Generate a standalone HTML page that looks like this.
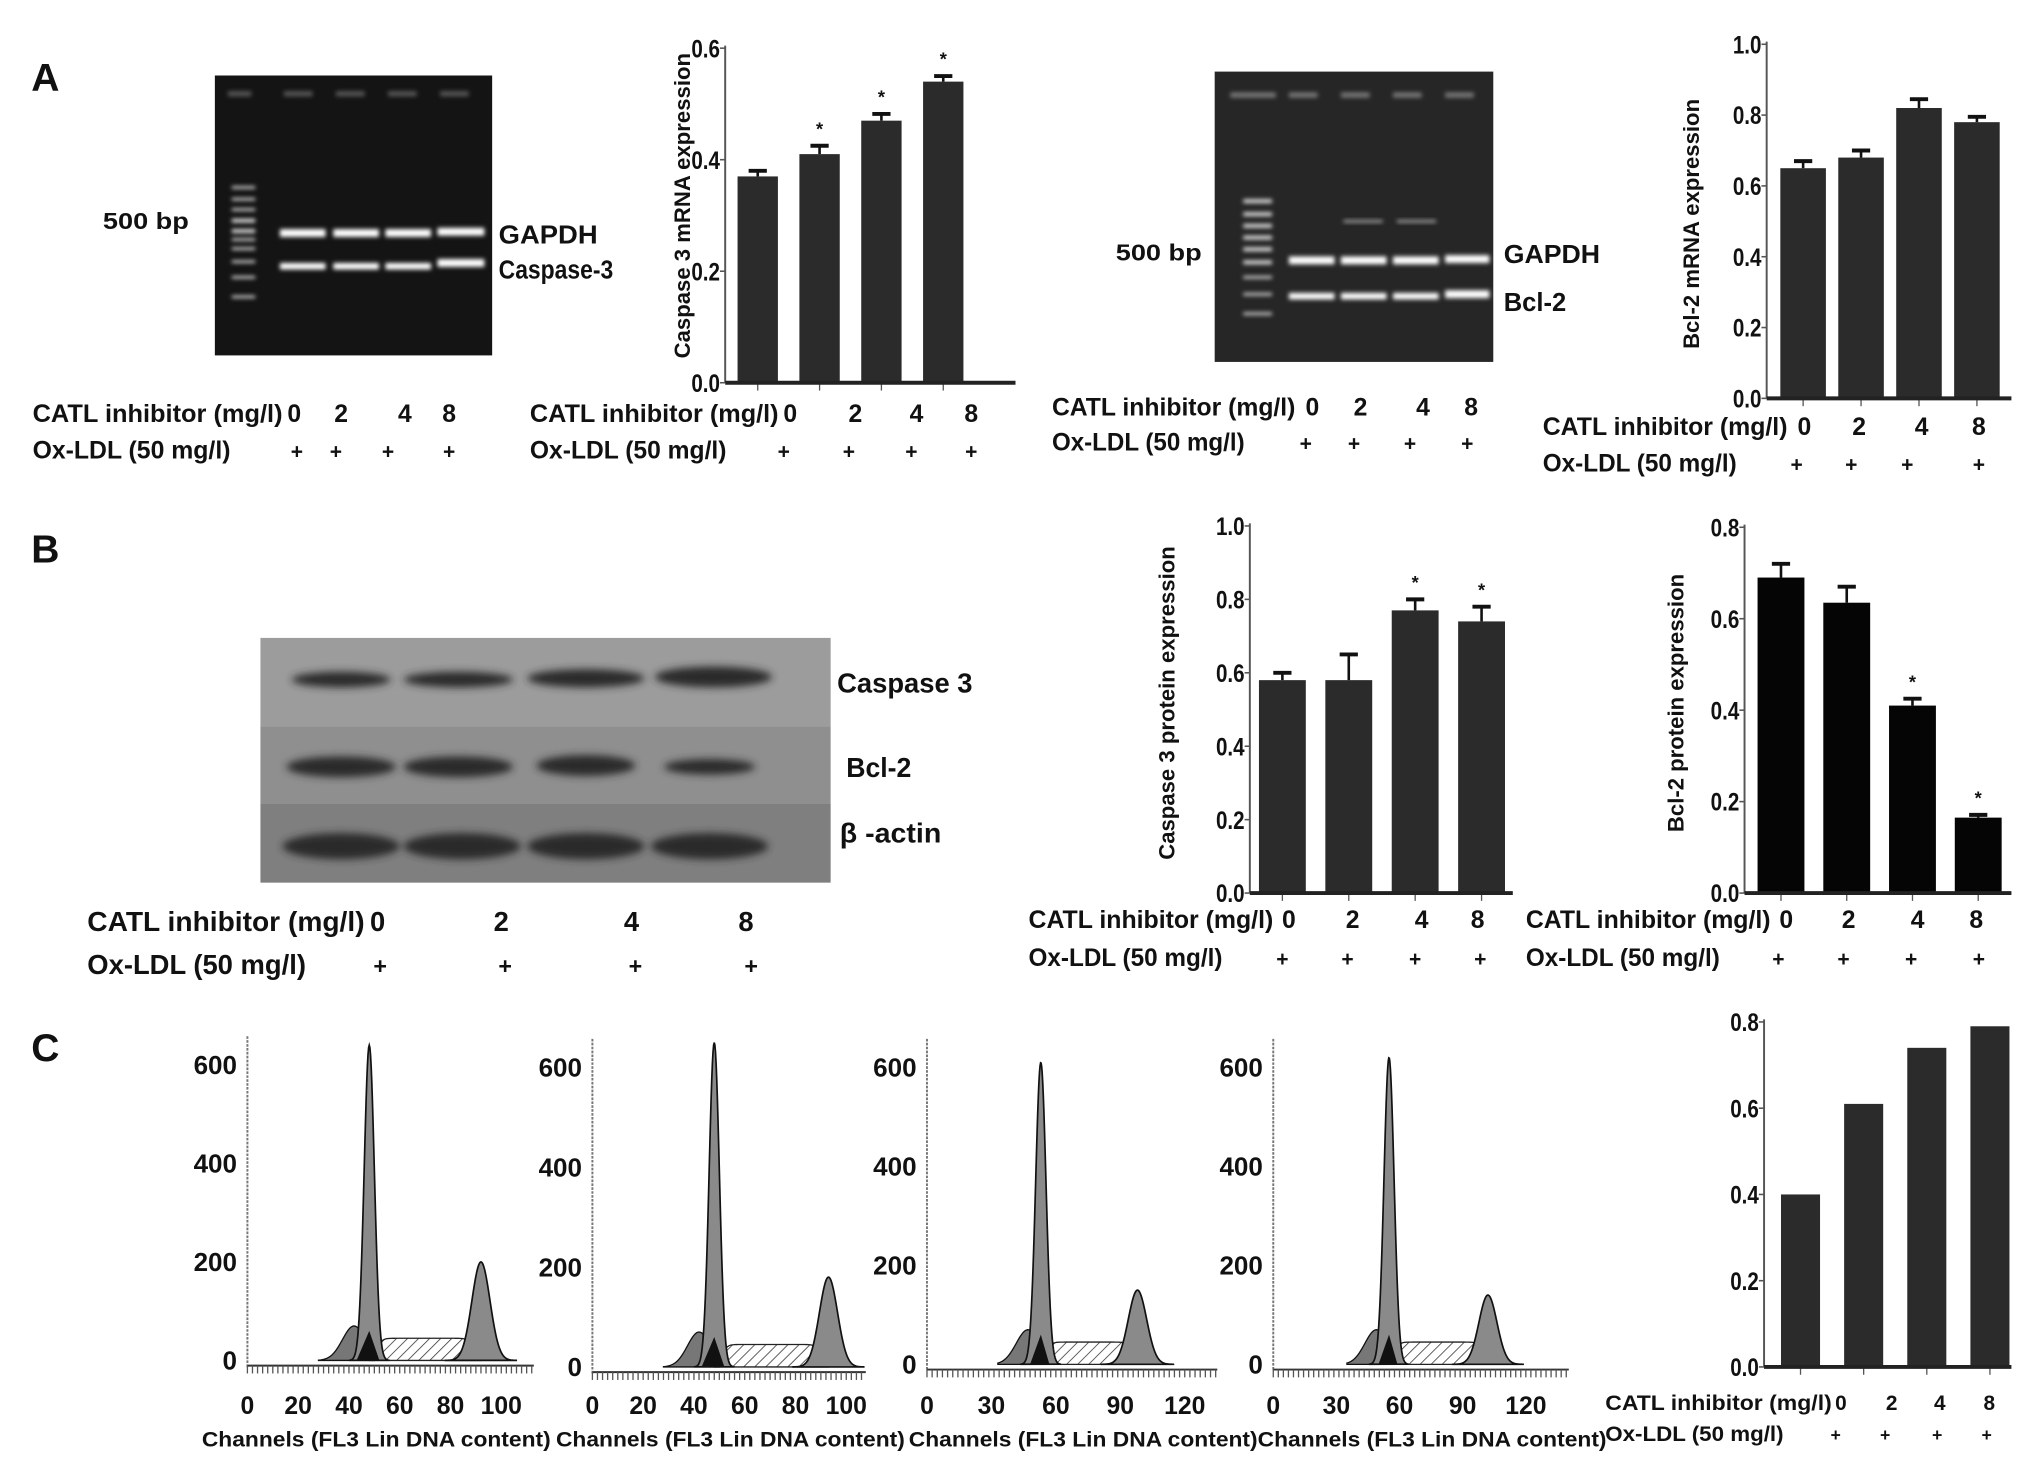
<!DOCTYPE html>
<html><head><meta charset="utf-8">
<style>
html,body{margin:0;padding:0;background:#fff;}
svg{display:block;}
text{font-family:"Liberation Sans",Arial,sans-serif;font-weight:bold;fill:#111;}
</style></head>
<body>
<svg id="fig" width="2031" height="1475" viewBox="0 0 1560 1133" xmlns="http://www.w3.org/2000/svg">
<defs>
<filter id="glow" x="-20%" y="-100%" width="140%" height="300%"><feGaussianBlur stdDeviation="1.6"/></filter>
<filter id="blur3" x="-20%" y="-100%" width="140%" height="300%"><feGaussianBlur stdDeviation="3"/></filter>
<pattern id="hatch" width="6" height="6" patternUnits="userSpaceOnUse" patternTransform="rotate(45)"><rect width="6" height="6" fill="#fff"/><line x1="0" y1="0" x2="0" y2="6" stroke="#333" stroke-width="1.2"/></pattern>
</defs>
<g id="static">
<text x="24" y="70" font-size="30">A</text>
<text x="24" y="432" font-size="30">B</text>
<text x="24" y="815" font-size="30">C</text>

<g>
<rect x="165" y="58" width="213" height="215" fill="#141414"/>
<g fill="#555" filter="url(#glow)">
<rect x="175" y="70" width="18" height="4"/><rect x="218" y="70" width="22" height="4"/><rect x="258" y="70" width="22" height="4"/><rect x="298" y="70" width="22" height="4"/><rect x="338" y="70" width="22" height="4"/>
</g>
<g fill="#ddd" filter="url(#glow)">
<rect x="178" y="143" width="18" height="2"/><rect x="178" y="152" width="18" height="2"/><rect x="178" y="160" width="18" height="2"/><rect x="178" y="168" width="18" height="3"/><rect x="178" y="176" width="18" height="3"/><rect x="178" y="183" width="18" height="2"/><rect x="178" y="190" width="18" height="2"/><rect x="178" y="200" width="18" height="2"/><rect x="178" y="212" width="18" height="2"/><rect x="178" y="227" width="18" height="2"/>
</g>
<g fill="#fff" filter="url(#glow)">
<rect x="215" y="176" width="35" height="6"/><rect x="256" y="176" width="35" height="6"/><rect x="296" y="176" width="35" height="6"/><rect x="336" y="175" width="36" height="6"/>
<rect x="215" y="202" width="35" height="5"/><rect x="256" y="202" width="35" height="5"/><rect x="296" y="202" width="35" height="5"/><rect x="336" y="199" width="36" height="6"/>
</g>
</g>
<text x="79" y="176" font-size="18" textLength="66" lengthAdjust="spacingAndGlyphs">500 bp</text>
<text x="383" y="187" font-size="20" textLength="76" lengthAdjust="spacingAndGlyphs">GAPDH</text>
<text x="383" y="214" font-size="20" textLength="88" lengthAdjust="spacingAndGlyphs">Caspase-3</text>

<g>
<rect x="933" y="55" width="214" height="223" fill="#262626"/>
<g fill="#777" filter="url(#glow)">
<rect x="945" y="71" width="16" height="4"/><rect x="960" y="71" width="20" height="4"/><rect x="990" y="71" width="22" height="4"/><rect x="1030" y="71" width="22" height="4"/><rect x="1070" y="71" width="22" height="4"/><rect x="1110" y="71" width="22" height="4"/>
</g>
<g fill="#ddd" filter="url(#glow)">
<rect x="955" y="153" width="22" height="3"/><rect x="955" y="163" width="22" height="3"/><rect x="955" y="172" width="22" height="3"/><rect x="955" y="181" width="22" height="3"/><rect x="955" y="190" width="22" height="3"/><rect x="955" y="200" width="22" height="3"/><rect x="955" y="212" width="22" height="2"/><rect x="955" y="225" width="22" height="2"/><rect x="955" y="240" width="22" height="2"/>
</g>
<g fill="#aaa" filter="url(#glow)"><rect x="1032" y="169" width="30" height="2"/><rect x="1073" y="169" width="30" height="2"/></g>
<g fill="#fff" filter="url(#glow)">
<rect x="990" y="197" width="35" height="6"/><rect x="1030" y="197" width="35" height="6"/><rect x="1070" y="197" width="35" height="6"/><rect x="1110" y="196" width="34" height="6"/>
<rect x="990" y="225" width="35" height="5"/><rect x="1030" y="225" width="35" height="5"/><rect x="1070" y="225" width="35" height="5"/><rect x="1110" y="223" width="34" height="6"/>
</g>
</g>
<text x="857" y="200" font-size="18" textLength="66" lengthAdjust="spacingAndGlyphs">500 bp</text>
<text x="1155" y="202" font-size="20" textLength="74" lengthAdjust="spacingAndGlyphs">GAPDH</text>
<text x="1155" y="239" font-size="20" textLength="48" lengthAdjust="spacingAndGlyphs">Bcl-2</text>

<g>
<rect x="200" y="490" width="438" height="68" fill="#9c9c9c"/>
<rect x="200" y="558" width="438" height="59" fill="#8f8f8f"/>
<rect x="200" y="617" width="438" height="61" fill="#7f7f7f"/>
<g fill="#2a2a2a" filter="url(#blur3)">
<ellipse cx="262" cy="522" rx="38" ry="6"/><ellipse cx="352" cy="522" rx="42" ry="6"/><ellipse cx="450" cy="521" rx="45" ry="7"/><ellipse cx="548" cy="520" rx="45" ry="8"/>
<ellipse cx="262" cy="589" rx="42" ry="8"/><ellipse cx="352" cy="589" rx="42" ry="8"/><ellipse cx="450" cy="588" rx="38" ry="8"/><ellipse cx="545" cy="589" rx="35" ry="6"/>
<ellipse cx="262" cy="650" rx="45" ry="10"/><ellipse cx="355" cy="650" rx="45" ry="10"/><ellipse cx="450" cy="650" rx="45" ry="10"/><ellipse cx="545" cy="650" rx="45" ry="10"/>
</g>
</g>
<text x="643" y="532" font-size="21" textLength="104" lengthAdjust="spacingAndGlyphs">Caspase 3</text>
<text x="650" y="597" font-size="21" textLength="50" lengthAdjust="spacingAndGlyphs">Bcl-2</text>
<text x="645" y="647" font-size="21" textLength="78" lengthAdjust="spacingAndGlyphs">β -actin</text>
</g>

<g id="charts"></g>
<g id="hists"></g>
</svg>

<script>
// ---------- Bar chart data ----------
const doses = ["0", "2", "4", "8"];
const casp3mRNA = [0.37, 0.41, 0.47, 0.54];
const casp3mRNAErr = [0.01, 0.015, 0.012, 0.01];
const casp3mRNAStar = [false, true, true, true];
const casp3mRNATicks = ["0.0", "0.2", "0.4", "0.6"];
const bcl2mRNA = [0.65, 0.68, 0.82, 0.78];
const bcl2mRNAErr = [0.02, 0.02, 0.025, 0.015];
const bcl2mRNAStar = [false, false, false, false];
const bcl2mRNATicks = ["0.0", "0.2", "0.4", "0.6", "0.8", "1.0"];
const casp3Prot = [0.58, 0.58, 0.77, 0.74];
const casp3ProtErr = [0.02, 0.07, 0.03, 0.04];
const casp3ProtStar = [false, false, true, true];
const casp3ProtTicks = ["0.0", "0.2", "0.4", "0.6", "0.8", "1.0"];
const bcl2Prot = [0.69, 0.635, 0.41, 0.165];
const bcl2ProtErr = [0.03, 0.035, 0.015, 0.006];
const bcl2ProtStar = [false, false, true, true];
const bcl2ProtTicks = ["0.0", "0.2", "0.4", "0.6", "0.8"];
const apopRate = [0.40, 0.61, 0.74, 0.79];
const apopTicks = ["0.0", "0.2", "0.4", "0.6", "0.8"];

// ---------- Histogram data (peak channel / peak count) ----------
const histXTicks1 = ["0", "20", "40", "60", "80", "100"];
const histXTicks2 = ["0", "30", "60", "90", "120"];
const histYTicks = ["0", "200", "400", "600"];
const g1Channel = [48, 48, 53, 55];
const g1Count = [640, 650, 610, 620];
const g2Channel = [92, 93, 98, 102];
const g2Count = [200, 180, 150, 140];
const sCount = [45, 45, 45, 45];

const NS = "http://www.w3.org/2000/svg";
function mk(tag, attrs, parent) {
  const e = document.createElementNS(NS, tag);
  for (const k in attrs) e.setAttribute(k, attrs[k]);
  parent.appendChild(e);
  return e;
}
const charts = document.getElementById("charts");

function barChart(cfg) {
  const g = mk("g", {}, charts);
  
  
  const ymax = parseFloat(cfg.ticks[cfg.ticks.length - 1]);
  const y = v => cfg.y0 - (v / ymax) * (cfg.y0 - cfg.y1);
  const x = i => cfg.xs + i * cfg.step;
  const ya = mk("line", {x1: cfg.ax, y1: cfg.y1 - 2, x2: cfg.ax, y2: cfg.y0, stroke: "#555", "stroke-width": 1.5}, g);
  
  
  cfg.ticks.forEach(t => {
    const yy = y(parseFloat(t));
    mk("line", {x1: cfg.ax - 4, y1: yy, x2: cfg.ax, y2: yy, stroke: "#555", "stroke-width": 1.2}, g);
    const tl = mk("text", {x: cfg.ax - 4, y: yy + 7, "font-size": 19, "text-anchor": "end", textLength: 22, lengthAdjust: "spacingAndGlyphs"}, g);
    tl.textContent = t;
    
    
  });
  cfg.vals.forEach((v, i) => {
    const cx = x(i);
    const b = mk("rect", {x: cx - cfg.bw / 2, y: y(v), width: cfg.bw, height: cfg.y0 - y(v), fill: cfg.fill}, g);
    
    
    if (cfg.err) {
      const e = cfg.err[i];
      mk("line", {x1: cx, y1: y(v), x2: cx, y2: y(v + e), stroke: "#111", "stroke-width": 2}, g);
      mk("line", {x1: cx - 7, y1: y(v + e), x2: cx + 7, y2: y(v + e), stroke: "#111", "stroke-width": 3}, g);
      if (cfg.star && cfg.star[i]) {
        const s = mk("text", {x: cx, y: y(v + e) - 8, "font-size": 14, "text-anchor": "middle"}, g);
        s.textContent = "*";
        
        
      }
    }
    mk("line", {x1: cx, y1: cfg.y0, x2: cx, y2: cfg.y0 + 6, stroke: "#555", "stroke-width": 1}, g);
  });
  const xa = mk("line", {x1: cfg.ax, y1: cfg.y0, x2: cfg.xe, y2: cfg.y0, stroke: "#222", "stroke-width": 3}, g);
  
  
  if (cfg.title) {
    const t = mk("text", {x: 0, y: 0, "font-size": 17, "text-anchor": "middle", transform: `translate(${cfg.tx},${cfg.ty}) rotate(-90)`}, g);
    t.textContent = cfg.title;
    
    
  }
}

function doseLabels(name, lx, ly1, ly2, numX, plusX, fs, w) {
  const g = mk("g", {}, charts);
  
  
  const t1 = mk("text", {x: lx, y: ly1, "font-size": fs, textLength: w, lengthAdjust: "spacingAndGlyphs"}, g);
  t1.textContent = "CATL inhibitor (mg/l)";
  
  
  const t2 = mk("text", {x: lx, y: ly2, "font-size": fs, textLength: Math.round(w * 0.79), lengthAdjust: "spacingAndGlyphs"}, g);
  t2.textContent = "Ox-LDL (50 mg/l)";
  
  
  doses.forEach((d, i) => {
    const n = mk("text", {x: numX[i], y: ly1, "font-size": fs, "text-anchor": "middle"}, g);
    n.textContent = d;
    
    
    const p = mk("text", {x: plusX[i], y: ly2, "font-size": fs * 0.85, "text-anchor": "middle"}, g);
    p.textContent = "+";
    
    
  });
}

barChart({name: "caspase3-mrna-chart", ax: 557, y0: 294, y1: 37, xs: 582, step: 47.5, bw: 31, xe: 780, fill: "#2b2b2b",
  vals: casp3mRNA, err: casp3mRNAErr, star: casp3mRNAStar, ticks: casp3mRNATicks, title: "Caspase 3 mRNA expression", tx: 530, ty: 158});
barChart({name: "bcl2-mrna-chart", ax: 1357, y0: 306, y1: 34, xs: 1385, step: 44.5, bw: 35, xe: 1545, fill: "#2b2b2b",
  vals: bcl2mRNA, err: bcl2mRNAErr, star: bcl2mRNAStar, ticks: bcl2mRNATicks, title: "Bcl-2 mRNA expression", tx: 1305, ty: 172});
barChart({name: "caspase3-protein-chart", ax: 960, y0: 686, y1: 404, xs: 985, step: 51, bw: 36, xe: 1162, fill: "#2b2b2b",
  vals: casp3Prot, err: casp3ProtErr, star: casp3ProtStar, ticks: casp3ProtTicks, title: "Caspase 3 protein expression", tx: 902, ty: 540});
barChart({name: "bcl2-protein-chart", ax: 1340, y0: 686, y1: 405, xs: 1368, step: 50.5, bw: 36, xe: 1545, fill: "#050505",
  vals: bcl2Prot, err: bcl2ProtErr, star: bcl2ProtStar, ticks: bcl2ProtTicks, title: "Bcl-2 protein expression", tx: 1293, ty: 540});
barChart({name: "apoptosis-rate-chart", ax: 1355, y0: 1050, y1: 785, xs: 1383, step: 48.5, bw: 30, xe: 1545, fill: "#2b2b2b",
  vals: apopRate, err: null, star: null, ticks: apopTicks, title: null});

doseLabels("gel1-dose-labels", 25, 324, 352, [226, 262, 311, 345], [228, 258, 298, 345], 19, 192);
doseLabels("chart1-dose-labels", 407, 324, 352, [607, 657, 704, 746], [602, 652, 700, 746], 19, 191);
doseLabels("gel2-dose-labels", 808, 319, 346, [1008, 1045, 1093, 1130], [1003, 1040, 1083, 1127], 19, 187);
doseLabels("chart2-dose-labels", 1185, 334, 362, [1386, 1428, 1476, 1520], [1380, 1422, 1465, 1520], 19, 188);
doseLabels("blot-dose-labels", 67, 715, 748, [290, 385, 485, 573], [292, 388, 488, 577], 21, 213);
doseLabels("chart3-dose-labels", 790, 713, 742, [990, 1039, 1092, 1135], [985, 1035, 1087, 1137], 19, 188);
doseLabels("chart4-dose-labels", 1172, 713, 742, [1372, 1420, 1473, 1518], [1366, 1416, 1468, 1520], 19, 188);
doseLabels("chart5-dose-labels", 1233, 1083, 1107, [1414, 1453, 1490, 1528], [1410, 1448, 1488, 1526], 16, 174);

// ---------- Histograms ----------
const hists = document.getElementById("hists");
const histCfg = [
  {ax: 190, y0: 1045, y600: 818, xmax: 100, xEnd: 385, ticks: histXTicks1, lx: 155, right: 410},
  {ax: 455, y0: 1050, y600: 820, xmax: 100, xEnd: 650, ticks: histXTicks1, lx: 427, right: 665},
  {ax: 712, y0: 1048, y600: 820, xmax: 120, xEnd: 910, ticks: histXTicks2, lx: 698, right: 935},
  {ax: 978, y0: 1048, y600: 820, xmax: 120, xEnd: 1172, ticks: histXTicks2, lx: 966, right: 1205}
];
function gauss(c, h, s, ch) { return h * Math.exp(-0.5 * Math.pow((ch - c) / s, 2)); }
histCfg.forEach((c, k) => {
  const g = mk("g", {}, hists);
  
  
  const xs = ch => c.ax + (ch / c.xmax) * (c.xEnd - c.ax);
  const ys = n => c.y0 - (n / 600) * (c.y0 - c.y600);
  const chMax = (c.right - c.ax) / (c.xEnd - c.ax) * c.xmax;
  const s1 = c.xmax / 50, s2 = c.xmax / 28;
  let sp = `M${xs(g1Channel[k])},${ys(0)}`;
  for (let ch = g1Channel[k]; ch <= g2Channel[k]; ch += 0.5) {
    const v = sCount[k] * (1 / (1 + Math.exp(-(ch - g1Channel[k] - 3)))) * (1 / (1 + Math.exp(ch - g2Channel[k] + 3)));
    sp += ` L${xs(ch)},${ys(v)}`;
  }
  sp += ` L${xs(g2Channel[k])},${ys(0)} Z`;
  mk("path", {d: sp, fill: "url(#hatch)", stroke: "#222", "stroke-width": 1}, g);
  let ap = "";
  for (let ch = g1Channel[k] - 20; ch <= g1Channel[k] + 2; ch += 0.5) {
    const v = gauss(g1Channel[k] - 6, 70, c.xmax / 22, ch);
    ap += (ap ? " L" : "M") + `${xs(ch)},${ys(v)}`;
  }
  ap += ` L${xs(g1Channel[k] + 2)},${ys(0)} L${xs(g1Channel[k] - 20)},${ys(0)} Z`;
  mk("path", {d: ap, fill: "#777", stroke: "#111", "stroke-width": 1}, g);
  [[g1Channel[k], g1Count[k], s1], [g2Channel[k], g2Count[k], s2]].forEach((p, j) => {
    let d = "";
    for (let ch = p[0] - 4 * p[2]; ch <= p[0] + 4 * p[2]; ch += 0.25) {
      d += (d ? " L" : "M") + `${xs(ch)},${ys(gauss(p[0], p[1], p[2], ch))}`;
    }
    d += " Z";
    const pk = mk("path", {d: d, fill: "#8a8a8a", stroke: "#111", "stroke-width": 1.3}, g);
    
    
  });
  mk("path", {d: `M${xs(g1Channel[k] - 5)},${ys(0)} L${xs(g1Channel[k])},${ys(60)} L${xs(g1Channel[k] + 4)},${ys(0)} Z`, fill: "#111"}, g);
  mk("line", {x1: c.ax, y1: c.y600 - 22, x2: c.ax, y2: c.y0 + 5, stroke: "#777", "stroke-width": 1.5, "stroke-dasharray": "2,1"}, g);
  mk("line", {x1: c.ax, y1: c.y0 + 4, x2: c.right, y2: c.y0 + 4, stroke: "#333", "stroke-width": 1.5}, g);
  for (let ch = 0; ch <= chMax; ch += c.xmax / 50) {
    mk("line", {x1: xs(ch), y1: c.y0 + 4, x2: xs(ch), y2: c.y0 + 10, stroke: "#555", "stroke-width": 1}, g);
  }
  histYTicks.forEach(t => {
    const yy = ys(parseFloat(t));
    const tl = mk("text", {x: c.ax - 8, y: yy + 7, "font-size": 20, "text-anchor": "end"}, g);
    tl.textContent = t;
    
    
  });
  c.ticks.forEach(t => {
    const tl = mk("text", {x: xs(parseFloat(t)), y: 1086, "font-size": 19, "text-anchor": "middle"}, g);
    tl.textContent = t;
    
    
  });
  const xl = mk("text", {x: c.lx, y: 1111, "font-size": 16, textLength: 268, lengthAdjust: "spacingAndGlyphs"}, g);
  xl.textContent = "Channels (FL3 Lin DNA content)";
  
  
});
</script>
</body></html>
